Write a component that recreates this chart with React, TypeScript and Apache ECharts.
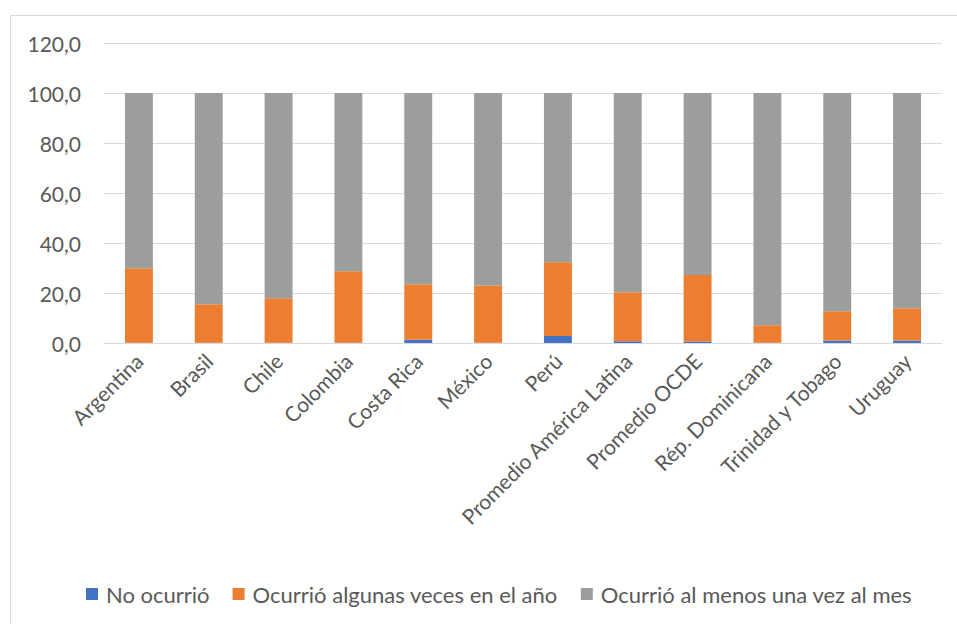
import React, { useEffect, useRef } from "react";
import * as echarts from "echarts";

const categories = [
  "Argentina",
  "Brasil",
  "Chile",
  "Colombia",
  "Costa Rica",
  "México",
  "Perú",
  "Promedio América Latina",
  "Promedio OCDE",
  "Rép. Dominicana",
  "Trinidad y Tobago",
  "Uruguay",
];

const noOcurrio = [0.1, 0.1, 0.1, 0.1, 1.3, 0.1, 2.8, 0.7, 0.6, 0.1, 1.0, 1.0];
const algunasVeces = [29.8, 15.4, 17.8, 28.6, 22.2, 22.9, 29.5, 19.6, 26.6, 7.0, 11.7, 12.9];
const alMenosMes = [70.1, 84.5, 82.1, 71.3, 76.5, 77.0, 67.7, 79.7, 72.8, 92.9, 87.3, 86.1];

const seriesNames = [
  "No ocurrió",
  "Ocurrió algunas veces en el año",
  "Ocurrió al menos una vez al mes",
];
const colors = ["#4472C4", "#ED7D31", "#9C9E9E"];

const FONT = "Lato, 'Open Sans', sans-serif";

export default function App() {
  const ref = useRef<HTMLDivElement>(null);
  useEffect(() => {
    if (!ref.current) return;
    const chart = echarts.init(ref.current, undefined, { renderer: "svg" });
    const values = [noOcurrio, algunasVeces, alMenosMes];
    chart.setOption({
      animation: false,
      backgroundColor: "#ffffff",
      textStyle: { fontFamily: FONT },
      grid: { left: 104, right: 15, top: 43, bottom: 281, containLabel: false },
      graphic: [
        {
          type: "polyline",
          shape: { points: [[10.5, 624], [10.5, 15.5], [957, 15.5]] },
          style: { stroke: "#d9d9d9", lineWidth: 1, fill: "none" },
          silent: true,
        },
      ],
      legend: {
        left: 81,
        top: 578,
        icon: "rect",
        itemWidth: 12,
        itemHeight: 12,
        itemGap: 23,
        textStyle: {
          fontFamily: FONT,
          fontSize: 22,
          color: "#595959",
          padding: [0, 0, 0, 3],
        },
        data: seriesNames,
      },
      xAxis: {
        type: "category",
        data: categories,
        axisTick: { show: false },
        axisLine: { lineStyle: { color: "#d9d9d9", width: 1 } },
        axisLabel: {
          rotate: 45,
          interval: 0,
          margin: 14,
          fontFamily: FONT,
          fontSize: 21,
          color: "#595959",
        },
      },
      yAxis: {
        type: "value",
        min: 0,
        max: 120,
        interval: 20,
        axisLine: { show: false },
        axisTick: { show: false },
        splitLine: { lineStyle: { color: "#d9d9d9", width: 1 } },
        axisLabel: {
          margin: 23,
          fontFamily: FONT,
          fontSize: 21,
          color: "#595959",
          formatter: (v: number) => v.toFixed(1).replace(".", ","),
        },
      },
      series: seriesNames.map((name, i) => ({
        name,
        type: "bar",
        stack: "total",
        barWidth: "40%",
        itemStyle: { color: colors[i] },
        data: values[i],
      })),
    });
    return () => chart.dispose();
  }, []);
  return (
    <div
      ref={ref}
      style={{ position: "absolute", left: 0, top: 0, width: 957, height: 624 }}
    />
  );
}
